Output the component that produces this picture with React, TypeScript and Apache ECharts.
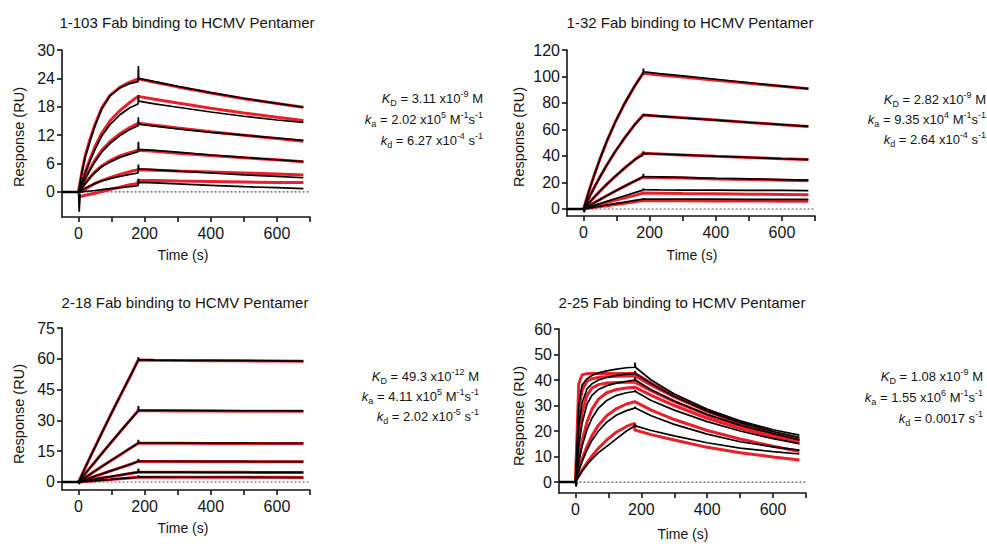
import React, { useEffect, useRef } from 'react';
import * as echarts from 'echarts';

const FONT = '"Liberation Sans", Arial, Helvetica, sans-serif';
const RED = '#e8202a';
const INK = '#151515';

// ---- shared time axes (s) ----
const BASE_T = [-50, 0];
const BASE_V = [0, 0];
const ASSOC_T = [0, 10, 20, 35, 50, 70, 95, 125, 155, 180];
const DISSOC_T = [180, 230, 300, 400, 500, 600, 680];
const DATA_DISSOC_T = [182, 230, 300, 400, 500, 600, 680];
const SPIKE_T = 181;
const DIP_T = [0, 2, 5];
const ZERO_T = [0, 700];
const X_TICKS = [0, 100, 200, 300, 400, 500, 600, 700];
const X_LABELS = [0, 200, 400, 600];

// ---- Panel 1: 1-103 ----
const P1_TITLE = '1-103 Fab binding to HCMV Pentamer';
const P1_Y_LABELS = [0, 6, 12, 18, 24, 30];
const P1_FIT_ASSOC = [
  [0, 4.2, 7.6, 11.2, 14.3, 17.7, 20.4, 22.1, 23.2, 23.9],
  [0, 2.2, 4.2, 7.0, 9.6, 12.4, 15.0, 17.2, 18.9, 20.2],
  [0, 1.5, 2.9, 4.9, 6.8, 8.8, 10.6, 12.3, 13.6, 14.5],
  [0, 0.9, 1.8, 3.1, 4.3, 5.5, 6.6, 7.6, 8.3, 8.8],
  [-0.3, 0.2, 0.6, 1.2, 1.8, 2.4, 3.0, 3.7, 4.3, 4.7],
  [-1.0, -0.9, -0.7, -0.5, -0.3, 0.1, 0.5, 1.0, 1.5, 1.8],
];
const P1_FIT_DISSOC = [
  [23.9, 23.2, 22.2, 20.9, 19.7, 18.7, 17.9],
  [20.3, 19.6, 18.8, 17.7, 16.7, 15.8, 15.1],
  [14.6, 14.1, 13.5, 12.7, 12.0, 11.3, 10.7],
  [8.8, 8.6, 8.2, 7.7, 7.2, 6.8, 6.4],
  [4.7, 4.6, 4.4, 4.2, 4.0, 3.8, 3.6],
  [2.4, 2.4, 2.3, 2.2, 2.1, 2.0, 2.0],
];
const P1_DATA_ASSOC = [
  [0, 4.0, 7.3, 10.8, 14.0, 17.5, 20.3, 22.0, 22.9, 23.3],
  [0, 2.0, 3.9, 6.6, 9.0, 11.8, 14.2, 16.3, 17.8, 18.6],
  [0, 1.4, 2.7, 4.7, 6.4, 8.4, 10.2, 11.9, 13.2, 14.0],
  [0, 0.9, 1.7, 3.0, 4.1, 5.3, 6.3, 7.3, 8.0, 8.5],
  [0, 0.4, 0.8, 1.3, 1.8, 2.3, 2.8, 3.3, 3.7, 4.0],
  [0, 0.0, 0.1, 0.2, 0.3, 0.5, 0.7, 0.9, 1.1, 1.3],
];
const P1_SPIKE = [26.6, 20.5, 15.8, 10.6, 5.8, 2.8];
const P1_DATA_DISSOC = [
  [24.0, 23.3, 22.3, 21.0, 19.8, 18.7, 17.9],
  [19.2, 18.6, 17.9, 16.9, 16.0, 15.2, 14.7],
  [14.3, 13.9, 13.3, 12.6, 12.0, 11.4, 10.9],
  [9.0, 8.8, 8.4, 7.8, 7.3, 6.8, 6.4],
  [4.9, 4.7, 4.4, 4.0, 3.6, 3.3, 3.0],
  [2.0, 1.9, 1.7, 1.4, 1.1, 0.9, 0.7],
];
const P1_DIP = [0, -4.2, -0.5];
const P1_ANN = [
  '{i|K}{sub|D}{n| = 3.11 x10}{sup|-9}{n| M}',
  '{i|k}{sub|a}{n| = 2.02 x10}{sup|5}{n| M}{sup|-1}{n|s}{sup|-1}',
  '{i|k}{sub|d}{n| = 6.27 x10}{sup|-4}{n| s}{sup|-1}',
];

// ---- Panel 2: 1-32 ----
const P2_TITLE = '1-32 Fab binding to HCMV Pentamer';
const P2_Y_LABELS = [0, 20, 40, 60, 80, 100, 120];
const P2_FIT_ASSOC = [
  [0, 8.4, 16.4, 27.6, 38.0, 50.8, 65.0, 79.9, 92.8, 102.4],
  [0, 5.2, 10.3, 17.5, 24.4, 33.0, 43.0, 53.9, 63.7, 70.9],
  [0, 2.9, 5.7, 9.7, 13.6, 18.6, 24.5, 31.1, 37.3, 42.0],
  [0, 1.5, 3.0, 5.1, 7.2, 10.0, 13.4, 17.3, 21.1, 24.0],
  [0, 0.7, 1.4, 2.4, 3.4, 4.8, 6.5, 8.4, 10.3, 12.0],
  [0, 0.35, 0.7, 1.3, 1.8, 2.5, 3.4, 4.4, 5.4, 6.3],
];
const P2_FIT_DISSOC = [
  [102.4, 101.2, 99.6, 97.2, 94.9, 92.6, 90.8],
  [70.9, 70.0, 68.8, 67.1, 65.3, 63.6, 62.3],
  [42.0, 41.5, 40.8, 39.8, 38.9, 37.9, 37.3],
  [24.0, 23.7, 23.3, 22.7, 22.2, 21.7, 21.3],
  [12.0, 11.9, 11.7, 11.5, 11.2, 11.0, 10.8],
  [6.3, 6.2, 6.2, 6.1, 6.0, 5.9, 5.8],
];
const P2_DATA_ASSOC = [
  [0, 8.2, 16.2, 27.4, 38.0, 51.0, 65.3, 80.2, 93.0, 102.4],
  [0, 5.0, 10.1, 17.3, 24.3, 33.0, 43.1, 54.0, 63.8, 70.2],
  [0, 2.8, 5.6, 9.6, 13.5, 18.5, 24.4, 31.0, 37.1, 40.8],
  [0, 1.5, 3.0, 5.1, 7.2, 10.0, 13.4, 17.3, 21.1, 24.4],
  [0, 0.8, 1.7, 2.9, 4.1, 5.7, 7.7, 10.0, 12.3, 14.2],
  [0, 0.4, 0.9, 1.5, 2.1, 3.0, 4.0, 5.2, 6.5, 7.5],
];
const P2_SPIKE = [106, 71.5, 43.5, 26.5, 15.5, 8.0];
const P2_DATA_DISSOC = [
  [103.6, 102.2, 100.5, 97.9, 95.3, 92.8, 90.8],
  [71.0, 70.1, 68.8, 67.1, 65.3, 63.6, 62.3],
  [42.0, 41.5, 40.8, 39.8, 38.9, 37.9, 37.3],
  [24.5, 24.2, 23.8, 23.2, 22.7, 22.2, 21.8],
  [14.5, 14.4, 14.3, 14.2, 14.1, 14.0, 13.9],
  [7.5, 7.5, 7.4, 7.4, 7.3, 7.2, 7.2],
];
const P2_DIP = [0, -2.5, 0];
const P2_ANN = [
  '{i|K}{sub|D}{n| = 2.82 x10}{sup|-9}{n| M}',
  '{i|k}{sub|a}{n| = 9.35 x10}{sup|4}{n| M}{sup|-1}{n|s}{sup|-1}',
  '{i|k}{sub|d}{n| = 2.64 x10}{sup|-4}{n| s}{sup|-1}',
];

// ---- Panel 3: 2-18 ----
const P3_TITLE = '2-18 Fab binding to HCMV Pentamer';
const P3_Y_LABELS = [0, 15, 30, 45, 60, 75];
const P3_FIT_ASSOC = [
  [0, 3.5, 7.0, 12.1, 17.1, 23.8, 32.0, 41.6, 51.0, 59.4],
  [0, 2.0, 4.0, 7.0, 9.9, 13.8, 18.6, 24.3, 29.9, 34.7],
  [0, 1.1, 2.2, 3.8, 5.4, 7.5, 10.1, 13.2, 16.3, 18.9],
  [0, 0.6, 1.1, 2.0, 2.8, 3.9, 5.3, 6.9, 8.5, 10.0],
  [0, 0.3, 0.5, 0.9, 1.3, 1.9, 2.5, 3.3, 4.1, 4.7],
  [0, 0.1, 0.3, 0.4, 0.6, 0.9, 1.2, 1.6, 2.0, 2.3],
];
const P3_FIT_DISSOC = [
  [59.4, 59.3, 59.2, 59.1, 59.0, 58.9, 58.8],
  [34.7, 34.7, 34.6, 34.6, 34.5, 34.5, 34.4],
  [18.9, 18.9, 18.9, 18.8, 18.8, 18.8, 18.7],
  [10.0, 10.0, 10.0, 9.9, 9.9, 9.9, 9.9],
  [4.7, 4.7, 4.7, 4.7, 4.7, 4.6, 4.6],
  [2.3, 2.3, 2.3, 2.3, 2.3, 2.3, 2.2],
];
const P3_DATA_ASSOC = [
  [0, 3.4, 6.9, 12.0, 17.0, 23.7, 32.0, 41.7, 51.2, 59.0],
  [0, 2.0, 4.0, 6.9, 9.8, 13.7, 18.6, 24.4, 30.0, 34.5],
  [0, 1.1, 2.2, 3.8, 5.4, 7.5, 10.1, 13.2, 16.3, 18.8],
  [0, 0.6, 1.1, 2.0, 2.8, 3.9, 5.3, 6.9, 8.5, 9.9],
  [0, 0.3, 0.6, 1.0, 1.4, 2.0, 2.6, 3.4, 4.2, 4.8],
  [0, 0.1, 0.3, 0.4, 0.6, 0.9, 1.2, 1.6, 2.0, 2.3],
];
const P3_SPIKE = [60.8, 37.0, 20.5, 11.2, 6.5, 3.2];
const P3_DATA_DISSOC = [
  [59.6, 59.4, 59.3, 59.2, 59.1, 59.0, 58.9],
  [35.0, 34.9, 34.9, 34.8, 34.7, 34.7, 34.6],
  [19.0, 19.0, 19.0, 18.9, 18.9, 18.8, 18.8],
  [10.1, 10.1, 10.0, 10.0, 10.0, 9.9, 9.9],
  [4.8, 4.8, 4.8, 4.7, 4.7, 4.7, 4.7],
  [2.4, 2.4, 2.3, 2.3, 2.3, 2.2, 2.2],
];
const P3_DIP = [0, -1.0, 0];
const P3_ANN = [
  '{i|K}{sub|D}{n| = 49.3 x10}{sup|-12}{n| M}',
  '{i|k}{sub|a}{n| = 4.11 x10}{sup|5}{n| M}{sup|-1}{n|s}{sup|-1}',
  '{i|k}{sub|d}{n| = 2.02 x10}{sup|-5}{n| s}{sup|-1}',
];

// ---- Panel 4: 2-25 ----
const P4_TITLE = '2-25 Fab binding to HCMV Pentamer';
const P4_Y_LABELS = [0, 10, 20, 30, 40, 50, 60];
const P4_FIT_ASSOC = [
  [0, 38.5, 42.0, 42.5, 42.6, 42.6, 42.6, 42.6, 42.6, 42.6],
  [0, 28.0, 36.0, 39.5, 40.5, 41.0, 41.3, 41.5, 41.6, 41.7],
  [0, 17.0, 27.0, 34.0, 36.8, 38.2, 38.8, 39.0, 39.1, 39.2],
  [0, 9.0, 16.0, 23.5, 28.5, 32.5, 35.0, 36.3, 36.9, 37.2],
  [0, 5.0, 9.0, 14.0, 18.2, 22.3, 26.0, 28.8, 30.6, 31.5],
  [0, 2.5, 4.6, 7.5, 10.2, 13.3, 16.5, 19.6, 21.8, 23.0],
];
const P4_FIT_DISSOC = [
  [42.6, 38.8, 34.1, 28.3, 23.5, 19.5, 16.8],
  [41.7, 38.0, 33.4, 27.7, 23.0, 19.1, 16.4],
  [39.2, 35.8, 31.5, 26.3, 22.0, 18.4, 15.8],
  [37.2, 34.0, 30.0, 25.0, 21.0, 17.7, 15.2],
  [31.5, 28.2, 24.5, 20.2, 16.9, 14.0, 12.0],
  [20.4, 18.6, 16.5, 13.6, 11.5, 9.8, 8.6],
];
const P4_DATA_ASSOC = [
  [0, 30.0, 38.0, 40.5, 41.8, 42.8, 43.6, 44.3, 44.8, 45.0],
  [0, 22.0, 31.0, 36.5, 38.5, 40.0, 41.0, 41.8, 42.3, 42.5],
  [0, 14.0, 23.0, 30.5, 34.0, 36.3, 37.8, 38.8, 39.5, 40.0],
  [0, 8.0, 14.0, 20.5, 25.0, 29.0, 32.0, 34.0, 35.0, 35.5],
  [0, 4.5, 8.0, 12.5, 16.3, 20.0, 23.5, 26.3, 28.0, 29.0],
  [0, 2.2, 4.2, 6.8, 9.0, 11.5, 14.0, 17.0, 20.0, 22.0],
];
const P4_SPIKE = [46.8, 43.5, 41.0, 36.0, 29.5, 22.8];
const P4_DATA_DISSOC = [
  [45.0, 40.0, 34.5, 28.5, 24.0, 20.5, 18.4],
  [42.5, 38.5, 33.5, 27.8, 23.3, 19.8, 17.5],
  [40.0, 36.2, 31.8, 26.5, 22.3, 19.0, 16.5],
  [35.5, 32.0, 28.2, 23.7, 20.0, 17.0, 15.0],
  [29.0, 26.0, 22.6, 18.8, 15.8, 13.8, 12.5],
  [22.0, 20.2, 18.1, 15.4, 13.3, 11.9, 11.0],
];
const P4_DIP = [0, -1.8, 0];
const P4_ANN = [
  '{i|K}{sub|D}{n| = 1.08 x10}{sup|-9}{n| M}',
  '{i|k}{sub|a}{n| = 1.55 x10}{sup|6}{n| M}{sup|-1}{n|s}{sup|-1}',
  '{i|k}{sub|d}{n| = 0.0017 s}{sup|-1}',
];

type Panel = {
  title: string;
  yLabels: number[];
  yMin: number;
  fitAssoc: number[][];
  fitDissoc: number[][];
  dataAssoc: number[][];
  dataDissoc: number[][];
  spike: number[];
  dip: number[];
  ann: string[];
  grid: { left: number; top: number; width: number; height: number };
  titleXY: [number, number];
  yNameXY: [number, number];
  xNameXY: [number, number];
  annX: number;
  annY: number[];
};

const PANELS: Panel[] = [
  {
    title: P1_TITLE, yLabels: P1_Y_LABELS, yMin: -5.3,
    fitAssoc: P1_FIT_ASSOC, fitDissoc: P1_FIT_DISSOC, dataAssoc: P1_DATA_ASSOC,
    dataDissoc: P1_DATA_DISSOC, spike: P1_SPIKE, dip: P1_DIP, ann: P1_ANN,
    grid: { left: 62, top: 50, width: 248, height: 167 },
    titleXY: [187, 22], yNameXY: [19, 137], xNameXY: [183, 255],
    annX: 483, annY: [98, 119, 140],
  },
  {
    title: P2_TITLE, yLabels: P2_Y_LABELS, yMin: -5.3,
    fitAssoc: P2_FIT_ASSOC, fitDissoc: P2_FIT_DISSOC, dataAssoc: P2_DATA_ASSOC,
    dataDissoc: P2_DATA_DISSOC, spike: P2_SPIKE, dip: P2_DIP, ann: P2_ANN,
    grid: { left: 567, top: 50, width: 248, height: 166 },
    titleXY: [690, 22], yNameXY: [519, 137], xNameXY: [692, 255],
    annX: 986, annY: [99, 119, 139],
  },
  {
    title: P3_TITLE, yLabels: P3_Y_LABELS, yMin: -3.9,
    fitAssoc: P3_FIT_ASSOC, fitDissoc: P3_FIT_DISSOC, dataAssoc: P3_DATA_ASSOC,
    dataDissoc: P3_DATA_DISSOC, spike: P3_SPIKE, dip: P3_DIP, ann: P3_ANN,
    grid: { left: 62, top: 328, width: 248, height: 162 },
    titleXY: [185, 302], yNameXY: [19, 414], xNameXY: [183, 528],
    annX: 479, annY: [376, 396, 416],
  },
  {
    title: P4_TITLE, yLabels: P4_Y_LABELS, yMin: -4.3,
    fitAssoc: P4_FIT_ASSOC, fitDissoc: P4_FIT_DISSOC, dataAssoc: P4_DATA_ASSOC,
    dataDissoc: P4_DATA_DISSOC, spike: P4_SPIKE, dip: P4_DIP, ann: P4_ANN,
    grid: { left: 559, top: 329, width: 247, height: 164 },
    titleXY: [682, 302], yNameXY: [519, 416], xNameXY: [683, 534],
    annX: 983, annY: [376, 397, 418],
  },
];

const RICH = {
  i: { fontFamily: FONT, fontSize: 13, fontStyle: 'italic', fill: INK, lineHeight: 18 },
  n: { fontFamily: FONT, fontSize: 13, fill: INK, lineHeight: 18 },
  sub: { fontFamily: FONT, fontSize: 9, fill: INK, lineHeight: 10, verticalAlign: 'bottom' },
  sup: { fontFamily: FONT, fontSize: 9, fill: INK, lineHeight: 10, verticalAlign: 'top' },
};

function buildOption() {
  const grids: any[] = [];
  const xAxes: any[] = [];
  const yAxes: any[] = [];
  const series: any[] = [];
  const graphics: any[] = [];

  PANELS.forEach((p, i) => {
    grids.push({ ...p.grid, containLabel: false });
    const axisCommon = {
      axisLine: { show: true, onZero: false, lineStyle: { color: INK, width: 1.6 } },
      axisTick: { show: true, length: 5, inside: false, lineStyle: { color: INK, width: 1.6 } },
      splitLine: { show: false },
    };
    xAxes.push({
      type: 'value', gridIndex: i, min: -50, max: 700,
      ...axisCommon,
      axisTick: { ...axisCommon.axisTick, customValues: X_TICKS },
      axisLabel: { customValues: X_LABELS, fontSize: 16, color: INK, fontFamily: FONT, margin: 8 },
    });
    yAxes.push({
      type: 'value', gridIndex: i, min: p.yMin, max: p.yLabels[p.yLabels.length - 1],
      ...axisCommon,
      axisTick: { ...axisCommon.axisTick, customValues: p.yLabels },
      axisLabel: { customValues: p.yLabels, fontSize: 16, color: INK, fontFamily: FONT, margin: 7 },
    });

    // dotted zero line
    series.push({
      type: 'line', xAxisIndex: i, yAxisIndex: i, symbol: 'none', silent: true, z: 1,
      data: ZERO_T.map((t) => [t, 0]),
      lineStyle: { color: '#555', width: 1.2, type: [2, 2] },
    });
    // fitted curves (red)
    p.fitAssoc.forEach((a, k) => {
      const pts = ASSOC_T.map((t, j) => [t, a[j]]).concat(
        DISSOC_T.map((t, j) => [t, p.fitDissoc[k][j]])
      );
      series.push({
        type: 'line', xAxisIndex: i, yAxisIndex: i, symbol: 'none', silent: true, z: 2,
        data: pts, lineStyle: { color: RED, width: 3 },
      });
    });
    // measured curves (black)
    p.dataAssoc.forEach((a, k) => {
      const pts = BASE_T.map((t, j) => [t, BASE_V[j]])
        .concat(ASSOC_T.slice(1).map((t, j) => [t, a[j + 1]]))
        .concat([[SPIKE_T, p.spike[k]]])
        .concat(DATA_DISSOC_T.map((t, j) => [t, p.dataDissoc[k][j]]));
      series.push({
        type: 'line', xAxisIndex: i, yAxisIndex: i, symbol: 'none', silent: true, z: 3,
        data: pts, lineStyle: { color: '#000', width: 1.7 },
      });
    });
    // baseline
    series.push({
      type: 'line', xAxisIndex: i, yAxisIndex: i, symbol: 'none', silent: true, z: 3,
      data: BASE_T.map((t, j) => [t, BASE_V[j]]), lineStyle: { color: '#000', width: 2.4 },
    });
    // injection artefact
    series.push({
      type: 'line', xAxisIndex: i, yAxisIndex: i, symbol: 'none', silent: true, z: 3,
      data: DIP_T.map((t, j) => [t, p.dip[j]]), lineStyle: { color: '#000', width: 1.7 },
    });

    graphics.push({
      type: 'text', x: p.titleXY[0], y: p.titleXY[1],
      style: { text: p.title, fontFamily: FONT, fontSize: 15, fill: INK, align: 'center', verticalAlign: 'middle' },
    });
    graphics.push({
      type: 'text', x: p.yNameXY[0], y: p.yNameXY[1], rotation: Math.PI / 2,
      style: { text: 'Response (RU)', fontFamily: FONT, fontSize: 14.5, fill: INK, align: 'center', verticalAlign: 'middle' },
    });
    graphics.push({
      type: 'text', x: p.xNameXY[0], y: p.xNameXY[1],
      style: { text: 'Time (s)', fontFamily: FONT, fontSize: 14, fill: INK, align: 'center', verticalAlign: 'middle' },
    });
    p.ann.forEach((line, k) => {
      graphics.push({
        type: 'text', x: p.annX, y: p.annY[k],
        style: { text: line, rich: RICH, fontFamily: FONT, fontSize: 13, fill: INK, align: 'right', verticalAlign: 'middle' },
      });
    });
  });

  return {
    animation: false,
    backgroundColor: '#ffffff',
    grid: grids,
    xAxis: xAxes,
    yAxis: yAxes,
    series,
    graphic: graphics,
  };
}

export default function App() {
  const ref = useRef<HTMLDivElement>(null);
  useEffect(() => {
    document.body.style.margin = '0';
    const chart = echarts.init(ref.current as HTMLDivElement, null, { renderer: 'svg' });
    chart.setOption(buildOption() as any);
    return () => chart.dispose();
  }, []);
  return (
    <div
      ref={ref}
      style={{ position: 'fixed', left: 0, top: 0, width: 987, height: 544, background: '#fff' }}
    />
  );
}
